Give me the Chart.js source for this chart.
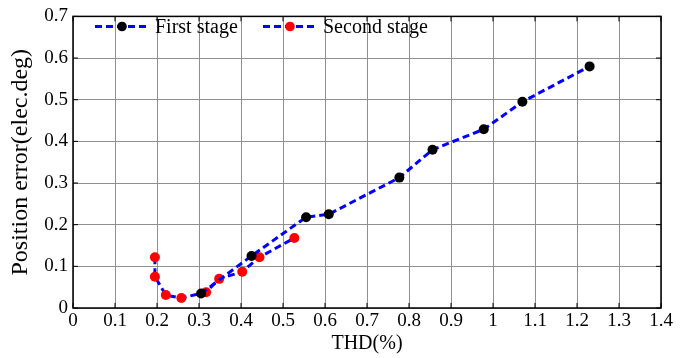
<!DOCTYPE html>
<html>
<head>
    <meta charset="UTF-8">
    <title>THD vs position error</title>
    <script src="https://cdn.jsdelivr.net/npm/chart.js"></script>
    <style>
        html, body { margin: 0; padding: 0; background: #fff; }
        #wrap { width: 686px; height: 358px; position: relative; }
    </style>
</head>
<body>
    <div id="wrap"><canvas id="chart"></canvas></div>
    <script>
        // data
        const firstThd = [0.305, 0.425, 0.555, 0.609, 0.777, 0.856, 0.978, 1.070, 1.230];
        const firstErr = [0.035, 0.125, 0.218, 0.225, 0.313, 0.380, 0.429, 0.495, 0.580];
        const secondThd = [0.195, 0.195, 0.221, 0.258, 0.317, 0.348, 0.403, 0.444, 0.527];
        const secondErr = [0.122, 0.075, 0.031, 0.024, 0.038, 0.070, 0.087, 0.122, 0.168];
        const seriesNames = ['First stage', 'Second stage'];
        const xTicks = [0, 0.1, 0.2, 0.3, 0.4, 0.5, 0.6, 0.7, 0.8, 0.9, 1, 1.1, 1.2, 1.3, 1.4];
        const xTickLabels = ['0', '0.1', '0.2', '0.3', '0.4', '0.5', '0.6', '0.7', '0.8', '0.9', '1', '1.1', '1.2', '1.3', '1.4'];
        const yTicks = [0, 0.1, 0.2, 0.3, 0.4, 0.5, 0.6, 0.7];
        const yTickLabels = ['0', '0.1', '0.2', '0.3', '0.4', '0.5', '0.6', '0.7'];

        const serif = "'Liberation Serif', 'Times New Roman', serif";
        const toPoints = (xs, ys) => xs.map((x, i) => ({ x: x, y: ys[i] }));

        // box around the plot + small inward ticks on top/right
        const framePlugin = {
            id: 'frame',
            afterDraw(chart) {
                const { ctx, chartArea: a, scales } = chart;
                ctx.save();
                ctx.strokeStyle = '#000';
                ctx.lineWidth = 1.5;
                ctx.strokeRect(a.left, a.top, a.right - a.left, a.bottom - a.top);
                ctx.lineWidth = 1;
                ctx.beginPath();
                xTicks.forEach(v => {
                    const px = scales.x.getPixelForValue(v);
                    ctx.moveTo(px, a.top); ctx.lineTo(px, a.top + 5);
                    ctx.moveTo(px, a.bottom); ctx.lineTo(px, a.bottom - 5);
                });
                yTicks.forEach(v => {
                    const py = scales.y.getPixelForValue(v);
                    ctx.moveTo(a.right, py); ctx.lineTo(a.right - 5, py);
                    ctx.moveTo(a.left, py); ctx.lineTo(a.left + 5, py);
                });
                ctx.stroke();
                ctx.restore();
            }
        };

        // legend drawn as line + marker like the original
        const legendPlugin = {
            id: 'lineLegend',
            afterDraw(chart) {
                const ctx = chart.ctx;
                const y = 26.5;
                const slots = [{ x0: 95, x1: 149, tx: 155 }, { x0: 263, x1: 317, tx: 323 }];
                ctx.save();
                chart.data.datasets.forEach((ds, i) => {
                    const s = slots[i];
                    ctx.strokeStyle = ds.borderColor;
                    ctx.lineWidth = ds.borderWidth;
                    ctx.setLineDash(ds.borderDash);
                    ctx.beginPath();
                    ctx.moveTo(s.x0, y); ctx.lineTo(s.x1, y);
                    ctx.stroke();
                    ctx.setLineDash([]);
                    ctx.fillStyle = ds.pointBackgroundColor;
                    ctx.beginPath();
                    ctx.arc((s.x0 + s.x1) / 2, y, 4.8, 0, Math.PI * 2);
                    ctx.fill();
                    ctx.fillStyle = '#000';
                    ctx.font = '20px ' + serif;
                    ctx.textBaseline = 'middle';
                    ctx.fillText(ds.label, s.tx, y + 1);
                });
                ctx.restore();
            }
        };

        new Chart(document.getElementById('chart'), {
            type: 'scatter',
            data: {
                datasets: [
                    {
                        label: seriesNames[0],
                        data: toPoints(firstThd, firstErr),
                        showLine: true,
                        borderColor: '#0000ff',
                        borderWidth: 3,
                        borderDash: [7, 4],
                        pointRadius: 5,
                        pointBackgroundColor: '#000',
                        pointBorderWidth: 0,
                        order: 0
                    },
                    {
                        label: seriesNames[1],
                        data: toPoints(secondThd, secondErr),
                        showLine: true,
                        borderColor: '#0000ff',
                        borderWidth: 3,
                        borderDash: [7, 4],
                        pointRadius: 5,
                        pointBackgroundColor: '#ff0000',
                        pointBorderWidth: 0,
                        order: 1
                    }
                ]
            },
            options: {
                responsive: true,
                maintainAspectRatio: false,
                animation: false,
                layout: { padding: { top: 12, right: 25, bottom: 0, left: 0 } },
                plugins: {
                    legend: { display: false },
                    tooltip: { enabled: false }
                },
                scales: {
                    x: {
                        type: 'linear',
                        min: 0,
                        max: 1.4,
                        afterBuildTicks: s => { s.ticks = xTicks.map(v => ({ value: v })); },
                        afterFit: s => { s.height = 50; },
                        grid: { color: '#8f8f8f', lineWidth: 1, drawTicks: false },
                        border: { display: false },
                        ticks: {
                            padding: 2,
                            color: '#000',
                            maxRotation: 0,
                            autoSkip: false,
                            font: { family: serif, size: 19 },
                            callback: (v, i) => xTickLabels[i]
                        },
                        title: {
                            display: true,
                            text: 'THD(%)',
                            color: '#000',
                            padding: { top: 0, bottom: 2 },
                            font: { family: serif, size: 20 }
                        }
                    },
                    y: {
                        type: 'linear',
                        min: 0,
                        max: 0.7,
                        afterBuildTicks: s => { s.ticks = yTicks.map(v => ({ value: v })); },
                        afterFit: s => { s.width = 73; },
                        grid: { color: '#8f8f8f', lineWidth: 1, drawTicks: false },
                        border: { display: false },
                        ticks: {
                            padding: 5,
                            color: '#000',
                            autoSkip: false,
                            font: { family: serif, size: 19 },
                            callback: (v, i) => yTickLabels[i]
                        },
                        title: {
                            display: true,
                            text: 'Position error(elec.deg)',
                            color: '#000',
                            padding: { top: 6, bottom: 0 },
                            font: { family: serif, size: 24 }
                        }
                    }
                }
            },
            plugins: [framePlugin, legendPlugin]
        });
    </script>
</body>
</html>
